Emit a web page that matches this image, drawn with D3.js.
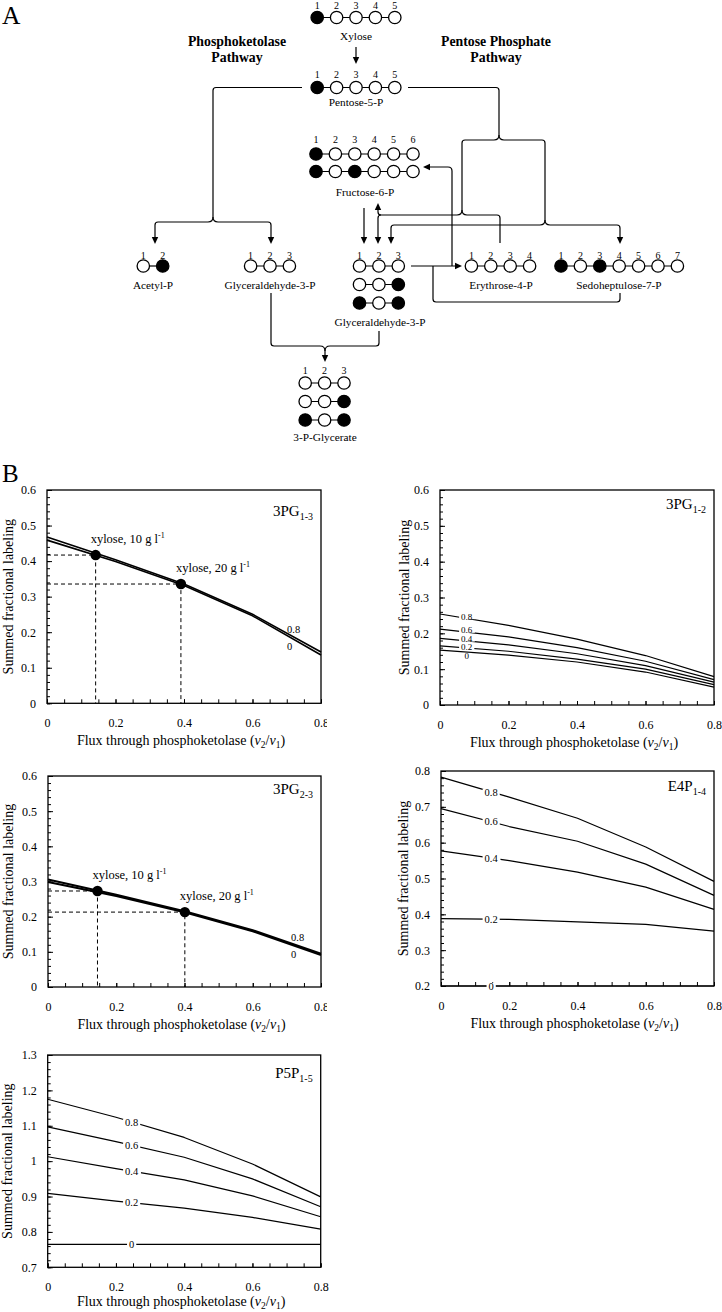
<!DOCTYPE html>
<html>
<head>
<meta charset="UTF-8">
<title>Xylose labeling</title>
<script src="https://cdnjs.cloudflare.com/ajax/libs/d3/7.8.5/d3.min.js"></script>
<style>
  body { margin: 0; background: #fff; }
  svg text { font-family: "Liberation Serif", "Times New Roman", serif; fill: #000; }
</style>
</head>
<body>
<svg id="fig" width="722" height="1312"></svg>
<script>
  var SERIF = '"Liberation Serif", "Times New Roman", serif';
  var SANS = '"Liberation Sans", Arial, sans-serif';

  // ---------- panel A : carbon labeling patterns ----------
  var xyloseFill = [1, 0, 0, 0, 0];
  var p5pFill = [1, 0, 0, 0, 0];
  var f6pRows = [[1, 0, 0, 0, 0, 0], [1, 0, 1, 0, 0, 0]];
  var acetylFill = [0, 1];
  var gapLeftFill = [0, 0, 0];
  var gapRows = [[0, 0, 0], [0, 0, 1], [1, 0, 1]];
  var e4pFill = [0, 0, 0, 0];
  var s7pFill = [1, 0, 1, 0, 0, 0, 0];
  var pgaRows = [[0, 0, 0], [0, 0, 1], [1, 0, 1]];

  // ---------- panel B : simulated summed fractional labeling ----------
  var flux = [0, 0.2, 0.4, 0.6, 0.8];
  var fluxTicks = [0, 0.2, 0.4, 0.6, 0.8];
  var fluxTickLabels = ['0', '0.2', '0.4', '0.6', '0.8'];
  var family = ['0.8', '0.6', '0.4', '0.2', '0'];
  var xyloseNames = ['xylose, 10 g l', 'xylose, 20 g l'];

  var lowTicks = [0, 0.1, 0.2, 0.3, 0.4, 0.5, 0.6];
  var lowTickLabels = ['0', '0.1', '0.2', '0.3', '0.4', '0.5', '0.6'];

  var pg13_08 = [0.4675, 0.4035, 0.3355, 0.2505, 0.1445];
  var pg13_0 = [0.4590, 0.3990, 0.3315, 0.2460, 0.1360];
  var pg13XyFlux = [0.142, 0.391];
  var pg13XyVal = [0.417, 0.3355];

  var pg12_08 = [0.254, 0.222, 0.184, 0.138, 0.079];
  var pg12_06 = [0.212, 0.190, 0.160, 0.122, 0.071];
  var pg12_04 = [0.186, 0.168, 0.143, 0.110, 0.064];
  var pg12_02 = [0.165, 0.150, 0.128, 0.100, 0.057];
  var pg12_0 = [0.153, 0.139, 0.120, 0.092, 0.050];

  var pg23_08 = [0.3055, 0.2625, 0.2155, 0.1615, 0.0945];
  var pg23_0 = [0.2985, 0.2585, 0.2125, 0.1585, 0.0905];
  var pg23XyFlux = [0.145, 0.401];
  var pg23XyVal = [0.273, 0.213];

  var e4pTicks = [0.2, 0.3, 0.4, 0.5, 0.6, 0.7, 0.8];
  var e4pTickLabels = ['0.2', '0.3', '0.4', '0.5', '0.6', '0.7', '0.8'];
  var e4p_08 = [0.783, 0.727, 0.668, 0.588, 0.492];
  var e4p_06 = [0.695, 0.645, 0.604, 0.540, 0.453];
  var e4p_04 = [0.577, 0.550, 0.518, 0.476, 0.414];
  var e4p_02 = [0.388, 0.386, 0.379, 0.372, 0.353];
  var e4p_0 = [0.2, 0.2, 0.2, 0.2, 0.2];

  var p5pTicks = [0.7, 0.8, 0.9, 1.0, 1.1, 1.2, 1.3];
  var p5pTickLabels = ['0.7', '0.8', '0.9', '1', '1.1', '1.2', '1.3'];
  var p5p_08 = [1.175, 1.124, 1.067, 0.992, 0.899];
  var p5p_06 = [1.097, 1.055, 1.011, 0.950, 0.871];
  var p5p_04 = [1.0125, 0.979, 0.947, 0.902, 0.843];
  var p5p_02 = [0.909, 0.887, 0.867, 0.841, 0.808];
  var p5p_0 = [0.765, 0.765, 0.765, 0.765, 0.765];

  var svg = d3.select('#fig');

  // =====================================================================
  // Panel A
  // =====================================================================
  var R = 6.2, STEP = 19.4;
  var dg = svg.append('g');

  function chain(x0, cy, fills) {
    var xs = fills.map(function (f, i) { return x0 + i * STEP; });
    dg.append('line')
      .attr('x1', xs[0]).attr('x2', xs[xs.length - 1])
      .attr('y1', cy).attr('y2', cy)
      .attr('stroke', '#000').attr('stroke-width', 1.2);
    dg.selectAll(null).data(fills).enter().append('circle')
      .attr('cx', function (d, i) { return xs[i]; })
      .attr('cy', cy)
      .attr('r', R)
      .attr('fill', function (d) { return d ? '#000' : '#fff'; })
      .attr('stroke', '#000').attr('stroke-width', 1.3);
  }
  function numbers(x0, y, n) {
    dg.selectAll(null).data(d3.range(1, n + 1)).enter().append('text')
      .attr('x', function (d, i) { return x0 + i * STEP; })
      .attr('y', y).attr('dy', '0.35em')
      .attr('text-anchor', 'middle')
      .attr('font-size', 10)
      .text(function (d) { return d; });
  }
  function name(x, y, t) {
    dg.append('text').attr('x', x).attr('y', y).attr('dy', '0.35em')
      .attr('text-anchor', 'middle').attr('font-size', 11.3).text(t);
  }
  function wire(d) {
    dg.append('path').attr('d', d).attr('fill', 'none')
      .attr('stroke', '#000').attr('stroke-width', 1.2);
  }
  function head(x, y, dir) {
    var L = 7, W = 3.2, p;
    if (dir === 'down') p = [[x, y], [x - W, y - L], [x + W, y - L]];
    if (dir === 'up') p = [[x, y], [x - W, y + L], [x + W, y + L]];
    if (dir === 'left') p = [[x, y], [x + L, y - W], [x + L, y + W]];
    if (dir === 'right') p = [[x, y], [x - L, y - W], [x - L, y + W]];
    dg.append('path').attr('d', 'M' + p.join('L') + 'Z').attr('fill', '#000');
  }

  svg.append('text').attr('x', 2).attr('y', 24).attr('font-size', 25.5).text('A');

  // pathway titles
  [['Phosphoketolase', 'Pathway', 237], ['Pentose Phosphate', 'Pathway', 496]].forEach(function (t) {
    var tx = svg.append('text').attr('text-anchor', 'middle')
      .attr('font-family', SANS).attr('font-weight', 'bold').attr('font-size', 13.8);
    tx.append('tspan').attr('x', t[2]).attr('y', 46).text(t[0]);
    tx.append('tspan').attr('x', t[2]).attr('y', 62).text(t[1]);
  });

  // molecules
  numbers(317.2, 5, 5); chain(317.2, 17.5, xyloseFill); name(356, 36, 'Xylose');
  numbers(317.2, 74, 5); chain(317.2, 87.5, p5pFill); name(356, 102, 'Pentose-5-P');
  numbers(316, 139, 6); chain(316, 154, f6pRows[0]); chain(316, 171.5, f6pRows[1]);
  name(365, 192, 'Fructose-6-P');
  numbers(143.3, 255, 2); chain(143.3, 266, acetylFill); name(153, 285, 'Acetyl-P');
  numbers(250.6, 255, 3); chain(250.6, 266, gapLeftFill); name(270, 285, 'Glyceraldehyde-3-P');
  numbers(359.5, 255, 3);
  gapRows.forEach(function (r, i) { chain(359.5, 266 + i * 18.5, r); });
  name(380, 322, 'Glyceraldehyde-3-P');
  numbers(471.4, 255, 4); chain(471.4, 266, e4pFill); name(501, 285, 'Erythrose-4-P');
  numbers(561, 255, 7); chain(561, 266, s7pFill); name(619, 285, 'Sedoheptulose-7-P');
  numbers(305.2, 370, 3);
  pgaRows.forEach(function (r, i) { chain(305.2, 383 + i * 18.5, r); });
  name(325, 437, '3-P-Glycerate');

  // arrows and connectors
  wire('M356,47V58'); head(356, 64, 'down');
  wire('M302,87.5H216Q213,87.5 213,90.5V217Q213,222 208,222H158Q155,222 155,225V238');
  wire('M213,217Q213,222 218,222H268Q271,222 271,225V238');
  head(155, 244, 'down'); head(271, 244, 'down');

  wire('M408,87.5H496Q499,87.5 499,90.5V135Q499,140 494,140H465Q462,140 462,143V210Q462,215 457,215H381Q378,215 378,212V209');
  wire('M462,210Q462,215 467,215H497Q500,215 500,218V243');
  wire('M381,215Q378,215 378,218V238');
  head(378, 203, 'up'); head(378, 244, 'down');
  wire('M499,135Q499,140 504,140H542Q545,140 545,143V220Q545,225 540,225H394Q391,225 391,228V238');
  wire('M545,220Q545,225 550,225H617Q620,225 620,228V238');
  head(391, 244, 'down'); head(620, 244, 'down');

  wire('M364,208V238'); head(364, 244, 'down');
  wire('M411,266H455'); head(462, 266, 'right');
  wire('M452,266V171Q452,167 448,167H430'); head(423, 167, 'left');
  wire('M433,266V299Q433,302 436,302H617Q620,302 620,299V293');

  wire('M271,293V343Q271,346 274,346H320Q325,346 325,351V356');
  wire('M379,331V343Q379,346 376,346H330Q325,346 325,351');
  head(325, 362, 'down');

  // =====================================================================
  // Panel B
  // =====================================================================
  svg.append('text').attr('x', 2).attr('y', 482).attr('font-size', 25).text('B');

  var charts = [
    { name: '3PG', sub: '1-3', left: 47, right: 321, top: 490, bottom: 703.3, labelY: 516, titleDy: 42,
      yDomain: [0, 0.6], yTicks: lowTicks, yTickLabels: lowTickLabels, titleX: 8, clip: 327,
      series: [pg13_08, pg13_0], names: ['0.8', '0'], width: 1.6,
      endLabels: [[287, 629, '0.8'], [287, 646, '0']],
      xyFlux: pg13XyFlux, xyVal: pg13XyVal },
    { name: '3PG', sub: '1-2', left: 440, right: 714, top: 490, bottom: 705, labelY: 509, titleDy: 42,
      yDomain: [0, 0.6], yTicks: lowTicks, yTickLabels: lowTickLabels, titleX: 404,
      series: [pg12_08, pg12_06, pg12_04, pg12_02, pg12_0], names: family, width: 1.2,
      labelAt: 0.078, labelSize: 9, nudge: [-2, -2, -2, -1, 3.5] },
    { name: '3PG', sub: '2-3', left: 48, right: 321, top: 776, bottom: 987, labelY: 794, titleDy: 42,
      yDomain: [0, 0.6], yTicks: lowTicks, yTickLabels: lowTickLabels, titleX: 8, clip: 327,
      series: [pg23_08, pg23_0], names: ['0.8', '0'], width: 2,
      endLabels: [[291, 937, '0.8'], [291, 954, '0']],
      xyFlux: pg23XyFlux, xyVal: pg23XyVal },
    { name: 'E4P', sub: '1-4', left: 441, right: 714, top: 771, bottom: 986, labelY: 791, titleDy: 42,
      yDomain: [0.2, 0.8], yTicks: e4pTicks, yTickLabels: e4pTickLabels, titleX: 403,
      series: [e4p_08, e4p_06, e4p_04, e4p_02, e4p_0], names: family, width: 1.2,
      labelAt: 0.147, labelSize: 10.5 },
    { name: 'P5P', sub: '1-5', left: 47.7, right: 320.7, top: 1055, bottom: 1267.3, labelY: 1078, titleDy: 39,
      yDomain: [0.7, 1.3], yTicks: p5pTicks, yTickLabels: p5pTickLabels, titleX: 7,
      series: [p5p_08, p5p_06, p5p_04, p5p_02, p5p_0], names: family, width: 1.2,
      labelAt: 0.246, labelSize: 10.5 }
  ];

  function clean(g) {
    g.select('.domain').remove();
    g.attr('font-family', SERIF).attr('font-size', 12);
    g.selectAll('.tick line').attr('stroke', '#000');
    g.selectAll('.tick text').attr('fill', '#000');
  }

  function valueAt(s, f) {
    for (var i = 0; i < flux.length - 1; i++) {
      if (f <= flux[i + 1]) {
        var t = (f - flux[i]) / (flux[i + 1] - flux[i]);
        return s[i] + t * (s[i + 1] - s[i]);
      }
    }
    return s[s.length - 1];
  }

  charts.forEach(function (c, ci) {
    var g = svg.append('g');
    if (c.clip) {
      svg.append('clipPath').attr('id', 'clip' + ci)
        .append('rect').attr('x', 0).attr('y', 0).attr('width', c.clip).attr('height', 1312);
      g.attr('clip-path', 'url(#clip' + ci + ')');
    }
    var x = d3.scaleLinear().domain([0, 0.8]).range([c.left, c.right]);
    var y = d3.scaleLinear().domain(c.yDomain).range([c.bottom, c.top]);

    // y minor + major ticks (inside)
    g.append('g').attr('transform', 'translate(' + c.left + ',0)')
      .call(d3.axisLeft(y).tickValues(d3.range(c.yDomain[0], c.yDomain[1] + 1e-6, 0.02))
        .tickSize(-3).tickFormat(''))
      .call(clean);
    g.append('g').attr('transform', 'translate(' + c.left + ',0)')
      .call(d3.axisLeft(y).tickValues(c.yTicks).tickSize(-5).tickPadding(11)
        .tickFormat(function (d, i) { return c.yTickLabels[i]; }))
      .call(clean);

    // x ticks
    g.append('g').attr('transform', 'translate(0,' + c.bottom + ')')
      .call(d3.axisBottom(x).tickValues(d3.range(0, 0.8001, 0.05)).tickSize(-4).tickFormat(''))
      .call(clean);
    g.append('g').attr('transform', 'translate(0,' + c.bottom + ')')
      .call(d3.axisBottom(x).tickValues(fluxTicks).tickSize(-4).tickPadding(15.5)
        .tickFormat(function (d, i) { return fluxTickLabels[i]; }))
      .call(clean);

    // frame
    g.append('rect').attr('x', c.left).attr('y', c.top)
      .attr('width', c.right - c.left).attr('height', c.bottom - c.top)
      .attr('fill', 'none').attr('stroke', '#000').attr('stroke-width', 1.3);

    // axis titles
    g.append('text')
      .attr('transform', 'translate(' + c.titleX + ',' + (c.top + c.bottom) / 2 + ') rotate(-90)')
      .attr('text-anchor', 'middle').attr('dy', '0.35em').attr('font-size', 14)
      .text('Summed fractional labeling');
    var xt = g.append('text').attr('x', (c.left + c.right) / 2 - 3).attr('y', c.bottom + c.titleDy)
      .attr('text-anchor', 'middle').attr('font-size', 14);
    xt.append('tspan').text('Flux through phosphoketolase (');
    xt.append('tspan').attr('font-style', 'italic').text('v');
    xt.append('tspan').attr('font-size', 9.5).attr('dy', 2.5).text('2');
    xt.append('tspan').attr('dy', -2.5).text('/');
    xt.append('tspan').attr('font-style', 'italic').text('v');
    xt.append('tspan').attr('font-size', 9.5).attr('dy', 2.5).text('1');
    xt.append('tspan').attr('dy', -2.5).text(')');

    // panel label
    var lt = g.append('text').attr('x', c.right - 8).attr('y', c.labelY)
      .attr('text-anchor', 'end').attr('font-size', 15);
    lt.append('tspan').text(c.name);
    lt.append('tspan').attr('font-size', 10).attr('dy', 3.5).text(c.sub);

    // dashed guides (drawn under the curves)
    if (c.xyFlux) {
      c.xyFlux.forEach(function (f, i) {
        var v = c.xyVal[i];
        g.append('path')
          .attr('d', 'M' + x(0) + ',' + y(v) + 'H' + x(f) + 'V' + y(c.yDomain[0]))
          .attr('fill', 'none').attr('stroke', '#000').attr('stroke-width', 1)
          .attr('stroke-dasharray', '4,3');
      });
    }

    // curves
    var line = d3.line()
      .x(function (d, i) { return x(flux[i]); })
      .y(function (d) { return y(d); });
    g.selectAll(null).data(c.series).enter().append('path')
      .attr('d', line)
      .attr('fill', 'none').attr('stroke', '#000').attr('stroke-width', c.width)
      .attr('stroke-linejoin', 'round');

    // inline family labels: white gap in the curve behind each label
    if (c.labelAt !== undefined) {
      c.series.forEach(function (s, i) {
        var n = c.nudge ? c.nudge[i] : 0;
        var ly = y(valueAt(s, c.labelAt)) + n;
        var bg = g.append('rect').attr('fill', '#fff');
        var t = g.append('text').attr('x', x(c.labelAt)).attr('y', ly)
          .attr('dy', '0.35em').attr('text-anchor', 'middle').attr('font-size', c.labelSize)
          .text(c.names[i]);
        var bb = t.node().getBBox();
        bg.attr('x', bb.x - 2).attr('width', bb.width + 4)
          .attr('y', ly - c.labelSize * 0.3).attr('height', c.labelSize * 0.6);
      });
    }
    if (c.endLabels) {
      c.endLabels.forEach(function (e) {
        g.append('text').attr('x', e[0]).attr('y', e[1]).attr('dy', '0.35em')
          .attr('font-size', 10.5).text(e[2]);
      });
    }

    // xylose points and their labels
    if (c.xyFlux) {
      c.xyFlux.forEach(function (f, i) {
        var v = c.xyVal[i];
        g.append('circle').attr('cx', x(f)).attr('cy', y(v)).attr('r', 5.2).attr('fill', '#000');
        var t = g.append('text').attr('x', x(f) - 5).attr('y', y(v) - 12).attr('font-size', 12.5);
        t.append('tspan').text(xyloseNames[i]);
        t.append('tspan').attr('font-size', 8).attr('dy', -5).text('-1');
      });
    }
  });
</script>
</body>
</html>
